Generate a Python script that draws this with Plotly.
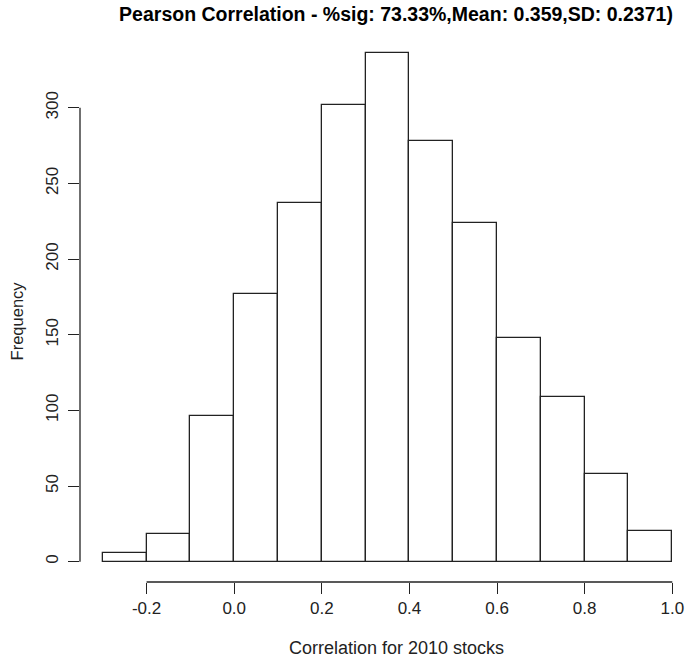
import plotly.graph_objects as go

# Histogram data (R hist style, bin width 0.1)
bin_left = [-0.3, -0.2, -0.1, 0.0, 0.1, 0.2, 0.3, 0.4, 0.5, 0.6, 0.7, 0.8, 0.9]
bin_width = 0.1
counts = [6, 18, 96, 177, 237, 302, 336, 278, 224, 148, 109, 58, 20]

x_ticks = [-0.2, 0.0, 0.2, 0.4, 0.6, 0.8, 1.0]
x_ticklabels = ["-0.2", "0.0", "0.2", "0.4", "0.6", "0.8", "1.0"]
y_ticks = [0, 50, 100, 150, 200, 250, 300]

title_text = "Pearson Correlation - %sig: 73.33%,Mean: 0.359,SD: 0.2371)"
x_title = "Correlation for 2010 stocks"
y_title = "Frequency"

centers = [b + bin_width / 2 for b in bin_left]

FONT = "Liberation Sans, Arial, sans-serif"
INK = "#222222"

fig = go.Figure()
fig.add_trace(go.Bar(
    x=centers, y=counts, width=[bin_width] * len(counts),
    marker=dict(color="white", line=dict(color=INK, width=1.3)),
    hoverinfo="x+y", showlegend=False,
))

fig.update_layout(
    width=686, height=658,
    margin=dict(l=80, r=0, t=33, b=76),
    paper_bgcolor="white", plot_bgcolor="white",
    font=dict(family=FONT, size=16, color=INK),
    bargap=0,
    title=dict(text=title_text, x=396 / 686, xanchor="center", xref="container",
               y=1 - 14 / 658, yanchor="middle", yref="container",
               font=dict(family=FONT, size=19.5, color="black", weight="bold")),
    xaxis=dict(range=[-0.352, 1.0313], tickvals=x_ticks, ticktext=x_ticklabels,
               ticks="outside", ticklen=11, tickwidth=1.3, tickcolor=INK,
               showgrid=False, zeroline=False, showline=False,
               tickfont=dict(size=17, color=INK)),
    yaxis=dict(range=[-13.44, 349.44], tickvals=y_ticks,
               ticks="outside", ticklen=11, tickwidth=1.3, tickcolor=INK,
               showgrid=False, zeroline=False, showline=False, tickangle=-90,
               ticklabelstandoff=3,
               tickfont=dict(size=17, color=INK)),
    shapes=[
        dict(type="line", xref="paper", x0=0, x1=0, yref="y",
             y0=min(y_ticks), y1=max(y_ticks), line=dict(color=INK, width=1.3)),
        dict(type="line", xref="x", x0=min(x_ticks), x1=max(x_ticks), yref="paper",
             y0=0, y1=0, line=dict(color=INK, width=1.3)),
    ],
    annotations=[
        dict(text=y_title, xref="paper", yref="paper",
             x=(17 - 80) / 606, y=(581.6 - 321) / 549, textangle=-90,
             showarrow=False, xanchor="center", yanchor="middle",
             font=dict(family=FONT, size=16.5, color=INK)),
        dict(text=x_title, xref="paper", yref="paper",
             x=(396 - 80) / 606, y=(581.6 - 648) / 549,
             showarrow=False, xanchor="center", yanchor="middle",
             font=dict(family=FONT, size=18, color=INK)),
    ],
)

fig.write_html("out.html", config={"displayModeBar": False},
               post_script="document.body.style.margin='0px';")
